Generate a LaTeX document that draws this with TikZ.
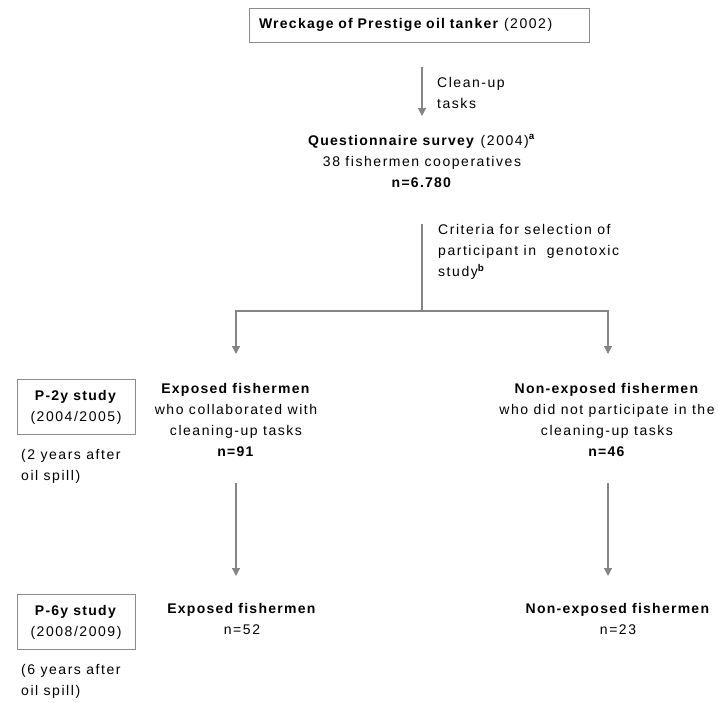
\documentclass[tikz,border=0pt]{standalone}
\usepackage{fontspec}
\setmainfont[LetterSpace=11, BoldFeatures={LetterSpace=9}]{Liberation Sans}
\usetikzlibrary{arrows.meta}
\definecolor{linegray}{HTML}{858585}
\definecolor{boxgray}{HTML}{8C8C8C}
\tikzset{
  txt/.style={font=\fontsize{14}{21}\selectfont, inner sep=0pt, align=center},
  ltxt/.style={font=\fontsize{14}{21}\selectfont, inner sep=0pt, align=left, anchor=west},
  boxed/.style={txt, draw=boxgray, line width=1pt},
  arr/.style={draw=linegray, line width=1.2pt, -{Triangle[length=8pt,width=8pt]}},
  ln/.style={draw=linegray, line width=1.2pt}
}
\begin{document}
\begin{tikzpicture}[x=1pt,y=-1pt]
\useasboundingbox (0,0) rectangle (718,702);
% top box
\node[boxed, minimum height=34pt, text width=320pt, align=left, inner xsep=10pt, inner ysep=0pt] (top) at (419,25) {\textbf{Wreckage of Prestige oil tanker} (2002)};
\coordinate (a1s) at (422,67);
\coordinate (a1e) at (422,116);
\draw[arr] (a1s) -- (a1e);
\node[ltxt] (clean) at (437,93) {Clean-up\\tasks};
% questionnaire
\node[txt] (q) at (422,161) {\textbf{Questionnaire survey} (2004)\textsuperscript{\textbf{a}}\\38 fishermen cooperatives\\\textbf{n=6.780}};
% criteria
\coordinate (v1) at (422,224);
\coordinate (br) at (422,311);
\coordinate (bl) at (236,311);
\coordinate (brr) at (608,311);
\coordinate (l1e) at (236,354);
\coordinate (r1e) at (608,354);
\node[ltxt] (crit) at (438,252) {Criteria for selection of\\participant in \ genotoxic\\study\textsuperscript{\textbf{b}}};
\draw[ln] (v1) -- (br);
\draw[arr] (br) -- (bl) -- (l1e);
\draw[arr] (br) -- (brr) -- (r1e);
% row 1
\node[boxed, minimum width=118pt, minimum height=55pt] (p2) at (76,407) {\textbf{P-2y study}\\(2004/2005)};
\node[ltxt] (p2note) at (21,466) {(2 years after\\oil spill)};
\node[txt] (exp1) at (236,420) {\textbf{Exposed fishermen}\\who collaborated with\\cleaning-up tasks\\\textbf{n=91}};
\node[txt] (nexp1) at (607,420) {\textbf{Non-exposed fishermen}\\who did not participate in the\\cleaning-up tasks\\\textbf{n=46}};
% arrows down
\coordinate (l2s) at (236,483);
\coordinate (l2e) at (236,576);
\coordinate (r2s) at (608,483);
\coordinate (r2e) at (608,576);
\draw[arr] (l2s) -- (l2e);
\draw[arr] (r2s) -- (r2e);
% row 2
\node[boxed, minimum width=118pt, minimum height=55pt] (p6) at (76,622) {\textbf{P-6y study}\\(2008/2009)};
\node[ltxt] (p6note) at (21,681) {(6 years after\\oil spill)};
\node[txt] (exp2) at (242,619) {\textbf{Exposed fishermen}\\n=52};
\node[txt] (nexp2) at (618,619) {\textbf{Non-exposed fishermen}\\n=23};
\end{tikzpicture}
\end{document}
